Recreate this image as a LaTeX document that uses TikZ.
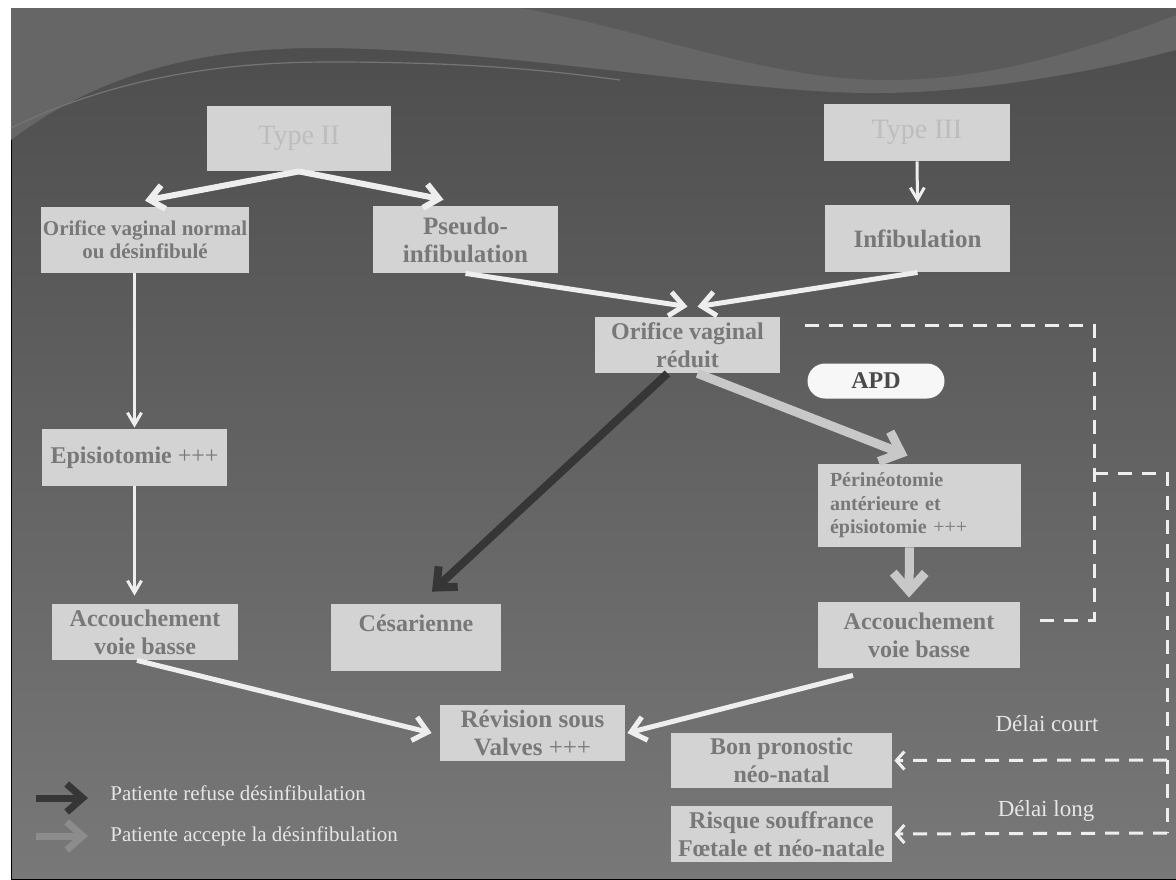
\documentclass[tikz,border=0pt]{standalone}
\usepackage{fontspec}
\setmainfont{Liberation Serif}
\usetikzlibrary{arrows.meta}
\definecolor{bgtop}{HTML}{4C4C4C}
\definecolor{bgbot}{HTML}{787878}
\definecolor{wave}{HTML}{666666}
\definecolor{boxgray}{HTML}{D3D3D3}
\definecolor{txtgray}{HTML}{787878}
\definecolor{typetxt}{HTML}{BDBDBD}
\definecolor{wline}{HTML}{EEEEEE}
\definecolor{apdgray}{HTML}{C8C8C8}
\definecolor{refgray}{HTML}{363636}
\definecolor{lgdtxt}{HTML}{E6E6E6}

\begin{document}
\begin{tikzpicture}[x=0.5pt,y=-0.5pt,
  bx/.style={fill=boxgray,text=txtgray,font=\bfseries\fontsize{12}{14}\selectfont,align=center,inner sep=0pt},
  tbx/.style={bx,text=typetxt,font=\fontsize{14}{16}\selectfont},
  wline/.style={draw=wline,line width=1.5pt,-{Straight Barb[length=6pt,width=7pt]}},
  warr/.style={draw=wline,line width=2.5pt,-{Straight Barb[length=7pt,width=12pt]}},
  apdarr/.style={draw=apdgray,line width=4.5pt,-{Straight Barb[length=9pt,width=16pt]}},
  refarr/.style={draw=refgray,line width=4pt,-{Straight Barb[length=8pt,width=14pt]}},
  dotline/.style={draw=wline,line width=1.5pt,dash pattern=on 7pt off 5pt},
  lgd/.style={text=lgdtxt,font=\fontsize{10.5}{12}\selectfont,inner sep=0pt}]
\useasboundingbox (0,0) rectangle (1176,879);
\fill[white] (0,0) rectangle (1176,879);
\fill[top color=bgtop,bottom color=bgbot,draw=black,line width=0.5pt] (11,8) rectangle (1176,879);
\fill[wave] (11,8) -- (11,140) .. controls (110,65) and (220,48) .. (320,48)
  .. controls (500,48) and (750,95) .. (880,93) .. controls (1000,92) and (1120,65) .. (1176,50) -- (1176,8) -- cycle;
\fill[bgtop!92!white] (520,8) .. controls (640,28) and (760,78) .. (880,80)
  .. controls (1000,82) and (1110,40) .. (1176,15) -- (1176,8) -- cycle;
\draw[wave!90!white,line width=0.6pt] (11,128) .. controls (120,75) and (230,62) .. (330,62) .. controls (480,62) and (560,72) .. (620,80);

\node[tbx,minimum width=92pt,minimum height=32.5pt] (t2) at (299,138.5) {Type II};
\node[tbx,minimum width=93pt,minimum height=28.5pt] (t3) at (917,132.5) {Type III};
\node[bx,font=\bfseries\fontsize{10.5}{11.5}\selectfont,minimum width=104pt,minimum height=33pt] (onorm) at (145,240) {Orifice vaginal normal\\ou désinfibulé};
\node[bx,font=\bfseries\fontsize{12.5}{14}\selectfont,minimum width=92.5pt,minimum height=33.5pt] (pseudo) at (465.5,239.5) {Pseudo-\\infibulation};
\node[bx,font=\bfseries\fontsize{12.5}{14}\selectfont,minimum width=92.5pt,minimum height=33.5pt] (infib) at (917.5,238.5) {Infibulation};
\node[bx,minimum width=92.5pt,minimum height=28pt] (ored) at (687.5,345) {Orifice vaginal\\réduit};
\node[fill=white!94!gray,text=refgray!90!white,font=\bfseries\fontsize{12}{14}\selectfont,rounded corners=8.75pt,minimum width=68.5pt,minimum height=17.5pt,inner sep=0pt] (apd) at (876,381) {APD};
\node[bx,font=\bfseries\fontsize{10}{11.75}\selectfont,align=left,text width=89.5pt,inner xsep=6pt,minimum height=41.5pt] (peri) at (919.5,505.5) {Périnéotomie\\antérieure et\\épisiotomie {\mdseries +++}};
\node[bx,minimum width=101pt,minimum height=33pt] (accR) at (919,635) {Accouchement\\voie basse};
\node[bx,minimum width=92.5pt,minimum height=28.5pt] (epi) at (134.5,457.5) {Episiotomie {\mdseries +++}};
\node[bx,minimum width=93pt,minimum height=28pt] (accL) at (145,632) {Accouchement\\voie basse};
\node[bx,minimum width=85pt,minimum height=33.5pt] (ces) at (416,637.5) {Césarienne\\\mbox{}};
\node[bx,font=\bfseries\fontsize{12.5}{14}\selectfont,minimum width=92.5pt,minimum height=28pt] (rev) at (532.5,733) {Révision sous\\Valves {\mdseries +++}};
\node[bx,minimum width=110.5pt,minimum height=27.5pt] (bon) at (781.5,760.5) {Bon pronostic\\néo-natal};
\node[bx,minimum width=110.5pt,minimum height=28pt] (risk) at (781.5,834) {Risque souffrance\\Fœtale et néo-natale};
\node[lgd,font=\fontsize{11.5}{12}\selectfont] (dc) at (1047,724) {Délai court};
\node[lgd,font=\fontsize{11.5}{12}\selectfont] (dl) at (1046,811) {Délai long};
\node[lgd,anchor=west] (lg1) at (110,793) {Patiente refuse désinfibulation};
\node[lgd,anchor=west] (lg2) at (110,836) {Patiente accepte la désinfibulation};

\draw[warr,line width=3pt] (t2.south) -- ([yshift=3pt]onorm.north);
\draw[warr,line width=3pt] (t2.south) -- ([xshift=-11pt,yshift=3pt]pseudo.north);
\draw[wline] (t3.south) -- ([yshift=1pt]infib.north);
\draw[warr] (pseudo.south) -- ([yshift=5pt]ored.north);
\draw[warr] (infib.south) -- ([xshift=5pt,yshift=5pt]ored.north);
\draw[wline] (onorm.south -| epi.north) -- ([yshift=0.5pt]epi.north);
\draw[wline] (epi.south) -- ([yshift=4pt]epi.south |- accL.north);
\draw[refarr] ([xshift=-10pt]ored.south) -- ([xshift=8pt,yshift=6pt]ces.north);
\draw[apdarr] ([xshift=5pt]ored.south) -- ([xshift=-6pt,yshift=4pt]peri.north);
\draw[apdarr] ([xshift=-5pt]peri.south) -- ([xshift=-5pt,yshift=2pt]accR.north);
\draw[warr] ([xshift=-4pt]accL.south) -- ([xshift=-4pt]rev.west);
\draw[warr] ([xshift=-33pt,yshift=-3.5pt]accR.south) -- ([xshift=1pt]rev.east);

\coordinate (d1) at (1094,325); \coordinate (d2) at (1094,473);
\coordinate (d3) at (1167,473); \coordinate (d4) at (1167,760); \coordinate (d5) at (1167,833);
\draw[dotline] ([xshift=10pt,yshift=7.5pt]accR.east) -| (d1) -- ([xshift=8.5pt,yshift=10pt]ored.east);
\draw[dotline] (d2) -- (d3) -- (d5);
\draw[dotline,-{Straight Barb[length=4pt,width=9pt]}] (d4) -- ([xshift=1pt]bon.east);
\draw[dotline,-{Straight Barb[length=4pt,width=9pt]}] (d5) -- ([xshift=1pt]risk.east);

\draw[refarr,line width=3.5pt] ([xshift=-37pt,yshift=-2.5pt]lg1.west) -- ([xshift=-11pt,yshift=-2.5pt]lg1.west);
\draw[refarr,draw=bgbot!85!white,line width=3.5pt] ([xshift=-37pt]lg2.west) -- ([xshift=-11pt]lg2.west);
\end{tikzpicture}
\end{document}
